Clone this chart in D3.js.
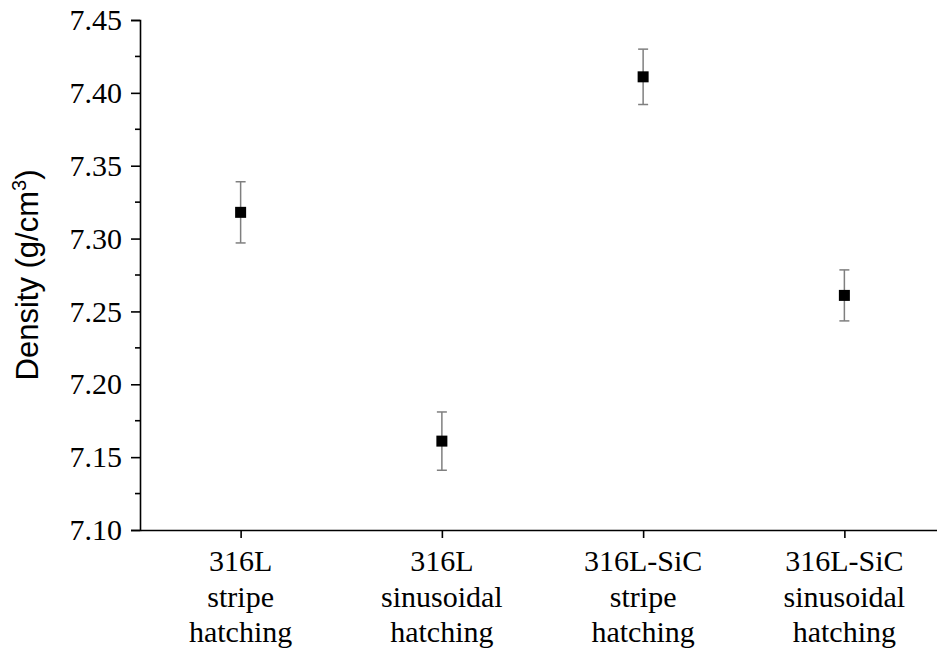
<!DOCTYPE html>
<html>
<head>
<meta charset="utf-8">
<script src="https://cdn.jsdelivr.net/npm/d3@7"></script>
<style>
  body { margin: 0; background: #fff; }
  svg { display: block; }
  .serif { font-family: "Liberation Serif", "Times New Roman", Times, "DejaVu Serif", serif; }
</style>
</head>
<body>
<div id="chart"></div>
<script>
// categories (each split in lines for the axis labels)
const categories = ["316L stripe", "316L sinusoidal", "316L-SiC stripe", "316L-SiC sinusoidal"];
const categoryLines = [
    ["316L", "stripe", "hatching"],
    ["316L", "sinusoidal", "hatching"],
    ["316L-SiC", "stripe", "hatching"],
    ["316L-SiC", "sinusoidal", "hatching"]
];
const densityMean = [7.318, 7.161, 7.411, 7.261];
const densityErr = [0.021, 0.020, 0.019, 0.0175];
const yTicks = [7.10, 7.15, 7.20, 7.25, 7.30, 7.35, 7.40, 7.45];
const yMinorTicks = [7.125, 7.175, 7.225, 7.275, 7.325, 7.375, 7.425];

const width = 937, height = 655;
const margin = {top: 20, left: 140, bottom: 125};

const svg = d3.select("#chart").append("svg")
    .attr("width", width)
    .attr("height", height);

// scales
const x = d3.scalePoint()
    .domain(categories)
    .range([margin.left, 945])
    .padding(0.5);

const y = d3.scaleLinear()
    .domain([7.10, 7.45])
    .range([height - margin.bottom, margin.top]);

// y axis
const yAxis = svg.append("g")
    .attr("transform", `translate(${margin.left},0)`)
    .call(d3.axisLeft(y).tickValues(yTicks).tickFormat(d3.format(".2f")).tickSize(9).tickPadding(9));
yAxis.attr("font-family", null).attr("font-size", null).attr("class", "serif");
yAxis.select(".domain").attr("stroke-width", 1.6);
yAxis.selectAll(".tick line").attr("stroke-width", 1.6);
yAxis.selectAll(".tick text")
    .attr("class", "serif")
    .style("font-size", "30px")
    .attr("fill", "#000");

// minor ticks
svg.append("g")
    .selectAll("line")
    .data(yMinorTicks)
    .join("line")
    .attr("x1", margin.left - 5)
    .attr("x2", margin.left)
    .attr("y1", d => y(d))
    .attr("y2", d => y(d))
    .attr("stroke", "#000")
    .attr("stroke-width", 1.6);

// x axis
const xAxis = svg.append("g")
    .attr("transform", `translate(0,${y(7.10)})`)
    .call(d3.axisBottom(x).tickSize(8).tickSizeOuter(0).tickFormat(""));
xAxis.select(".domain").attr("stroke-width", 1.6);
xAxis.selectAll(".tick line").attr("stroke-width", 1.6);

// multi line category labels
svg.append("g")
    .selectAll("text")
    .data(categories)
    .join("text")
    .attr("class", "serif")
    .style("font-size", "30px")
    .attr("text-anchor", "middle")
    .attr("fill", "#000")
    .each(function(d, i) {
        d3.select(this).selectAll("tspan")
            .data(categoryLines[i])
            .join("tspan")
            .attr("x", x(d))
            .attr("y", (t, j) => y(7.10) + 41 + j * 35.5)
            .text(t => t);
    });

// y label
const ylab = svg.append("text")
    .attr("transform", `translate(38,${(margin.top + y(7.10)) / 2}) rotate(-90)`)
    .attr("text-anchor", "middle")
    .style("font-family", "'Liberation Sans', Arial, sans-serif")
    .style("font-size", "31px")
    .attr("fill", "#000");
ylab.append("tspan").text("Density (g/cm");
ylab.append("tspan").style("font-size", "20px").attr("dy", -12).text("3");
ylab.append("tspan").attr("dy", 12).text(")");

// error bars
const pts = categories.map((c, i) => ({c: c, m: densityMean[i], e: densityErr[i]}));
const err = svg.append("g").attr("stroke", "#7f7f7f").attr("stroke-width", 1.5);
err.selectAll(".stem")
    .data(pts)
    .join("line")
    .attr("x1", d => x(d.c)).attr("x2", d => x(d.c))
    .attr("y1", d => y(d.m + d.e)).attr("y2", d => y(d.m - d.e));
err.selectAll(".capTop")
    .data(pts)
    .join("line")
    .attr("x1", d => x(d.c) - 5).attr("x2", d => x(d.c) + 5)
    .attr("y1", d => y(d.m + d.e)).attr("y2", d => y(d.m + d.e));
err.selectAll(".capBot")
    .data(pts)
    .join("line")
    .attr("x1", d => x(d.c) - 5).attr("x2", d => x(d.c) + 5)
    .attr("y1", d => y(d.m - d.e)).attr("y2", d => y(d.m - d.e));

// square markers
svg.append("g")
    .selectAll("rect")
    .data(pts)
    .join("rect")
    .attr("x", d => x(d.c) - 5.5)
    .attr("y", d => y(d.m) - 5.5)
    .attr("width", 11)
    .attr("height", 11)
    .attr("fill", "#000");
</script>
</body>
</html>
